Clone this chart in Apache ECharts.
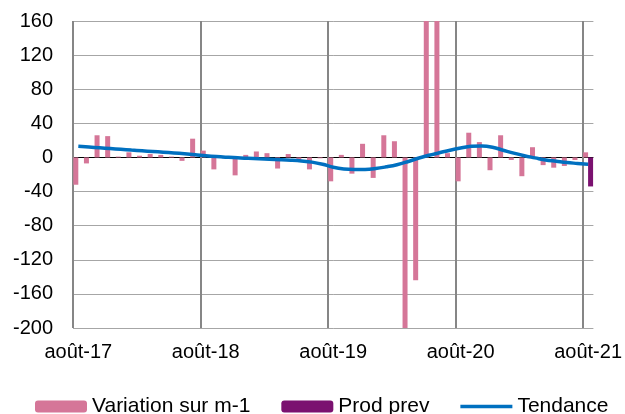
<!DOCTYPE html>
<html>
<head>
<meta charset="utf-8">
<script src="https://cdn.jsdelivr.net/npm/echarts@6/dist/echarts.min.js"></script>
<style>
  html, body { margin: 0; padding: 0; background: #fff; }
  #chart { width: 625px; height: 414px; }
</style>
</head>
<body>
<div id="chart"></div>
<script>
const months = [
  "août-17", "sept.-17", "oct.-17", "nov.-17", "déc.-17",
  "janv.-18", "févr.-18", "mars-18", "avr.-18", "mai-18", "juin-18", "juil.-18",
  "août-18", "sept.-18", "oct.-18", "nov.-18", "déc.-18",
  "janv.-19", "févr.-19", "mars-19", "avr.-19", "mai-19", "juin-19", "juil.-19",
  "août-19", "sept.-19", "oct.-19", "nov.-19", "déc.-19",
  "janv.-20", "févr.-20", "mars-20", "avr.-20", "mai-20", "juin-20", "juil.-20",
  "août-20", "sept.-20", "oct.-20", "nov.-20", "déc.-20",
  "janv.-21", "févr.-21", "mars-21", "avr.-21", "mai-21", "juin-21", "juil.-21",
  "août-21"
];
// one more slot so the vertical grid lines fall on month boundaries
const gridSlots = months.concat(["sept.-21"]);

const variation = [
  -32, -7, 26, 25, 1, 6, 2, 4, 3, 1, -4, 22,
  8, -14, -1, -21, 3, 7, 5, -13, 4, -3, -14, -1,
  -28, 3, -19, 16, -24, 26, 19, -200, -144, 160, 160, 5,
  -28, 29, 18, -15, 26, -3, -22, 12, -9, -12, -10, -3,
  6
];

const prodPrev = [
  null, null, null, null, null, null, null, null, null, null, null, null,
  null, null, null, null, null, null, null, null, null, null, null, null,
  null, null, null, null, null, null, null, null, null, null, null, null,
  null, null, null, null, null, null, null, null, null, null, null, null,
  -34
];

const tendance = [
  13, 12.2, 11.3, 10.4, 9.5, 8.6, 7.8, 7, 6.2, 5.3, 4.3, 3.2,
  2, 1, 0.2, -0.5, -1, -1.5, -2, -2.6, -3.3, -4.2, -5.5, -8,
  -11.5, -13.5, -14, -14, -13, -11, -8.5, -5, -1, 2.5, 5.5, 8.5,
  11, 13, 13.5, 12, 8.5, 5, 2, -0.5, -3, -4.5, -6, -7,
  -8
];

const colors = {
  variation: "#d57698",
  prod: "#7b1170",
  trend: "#0070c0",
  grid: "#a6a6a6",
  vgrid: "#868686",
  text: "#000000",
};
const font = "Liberation Sans, Arial, sans-serif";

// -200 .. 160 step 40 -> zero line is the 6th split line
const hLineColors = [];
for (let v = -200; v <= 160; v += 40) {
  hLineColors.push(v === 0 ? "#000000" : colors.grid);
}

const chart = echarts.init(document.getElementById("chart"));

chart.setOption({
  animation: false,
  grid: { left: 73, right: 31, top: 21, bottom: 86 },
  legend: {
    left: 35,
    top: 396,
    padding: 0,
    itemWidth: 52,
    itemHeight: 12,
    itemGap: 31,
    textStyle: { color: colors.text, fontSize: 21, fontFamily: font },
    data: [
      "Variation sur m-1",
      "Prod prev",
      { name: "Tendance", icon: "path://M0,0H52V3.5H0Z" },
    ],
  },
  xAxis: [
    {
      type: "category",
      data: months,
      axisLine: { show: false },
      axisTick: { show: false },
      splitLine: { show: false },
      axisLabel: {
        interval: 11,
        margin: 14,
        color: colors.text,
        fontSize: 20,
        fontFamily: font,
      },
    },
    {
      type: "category",
      data: gridSlots,
      boundaryGap: false,
      position: "bottom",
      axisLine: { show: false },
      axisTick: { show: false },
      axisLabel: { show: false },
      splitLine: {
        show: true,
        interval: 11,
        lineStyle: { color: colors.vgrid, width: 2 },
      },
    },
  ],
  yAxis: {
    type: "value",
    min: -200,
    max: 160,
    interval: 40,
    axisLine: { show: false },
    axisTick: { show: false },
    axisLabel: {
      margin: 20,
      color: colors.text,
      fontSize: 20,
      fontFamily: font,
    },
    splitLine: {
      lineStyle: { color: hLineColors, width: 1 },
    },
  },
  series: [
    {
      name: "Variation sur m-1",
      type: "bar",
      data: variation,
      barWidth: 5,
      barGap: "0%",
      itemStyle: { color: colors.variation },
    },
    {
      name: "Prod prev",
      type: "bar",
      data: prodPrev,
      barWidth: 5,
      barGap: "0%",
      itemStyle: { color: colors.prod },
    },
    {
      name: "Tendance",
      type: "line",
      data: tendance,
      smooth: 0.4,
      symbol: "none",
      lineStyle: { color: colors.trend, width: 3.5 },
      itemStyle: { color: colors.trend },
      z: 5,
    },
  ],
});
</script>
</body>
</html>
